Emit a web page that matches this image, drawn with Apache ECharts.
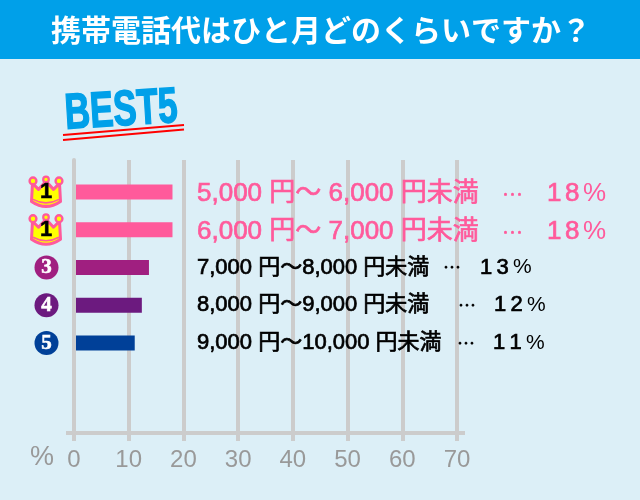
<!DOCTYPE html>
<html>
<head>
<meta charset="utf-8">
<style>html,body{margin:0;padding:0;background:#dceff7}#main{width:640px;height:500px}</style>
<script src="https://cdn.jsdelivr.net/npm/echarts@6/dist/echarts.min.js"></script>
</head>
<body>
<div id="main"></div>
<script>
var titleText = '携帯電話代はひと月どのくらいですか？';
var bestText = 'BEST5';
var unitText = '%';
var categories = ['5,000 円～ 6,000 円未満', '6,000 円～ 7,000 円未満', '7,000 円～8,000 円未満', '8,000 円～9,000 円未満', '9,000 円～10,000 円未満'];
var ranks = [1, 1, 3, 4, 5];
var percents = ['18', '18', '13', '12', '11'];
var barLengths = [18, 18, 13.7, 12.4, 11.1];
var barColors = ['#ff5a9b', '#ff5a9b', '#a01f80', '#6c1a7f', '#004098'];
var xTicks = [0, 10, 20, 30, 40, 50, 60, 70];

var font = '"Liberation Sans","Noto Sans CJK JP",sans-serif';
var cjk = '"Noto Sans CJK JP",sans-serif';
var pink = '#ff5a9b';

// crown drawn as svg, used as the background of the rank label
var crownSvg = '<svg xmlns="http://www.w3.org/2000/svg" width="36" height="35" viewBox="0 0 36 35">' +
    '<path d="M4.5 9 L10.5 15 L18 7 L25.5 15 L31.5 9 L32.5 27 Q18 37 3.5 27 Z" fill="#ffff00" stroke="#ff5a9b" stroke-width="3" stroke-linejoin="round"/>' +
    '<circle cx="5" cy="6.5" r="3.4" fill="#ffff00" stroke="#ff5a9b" stroke-width="2.4"/>' +
    '<circle cx="18" cy="5" r="2.8" fill="#ffff00" stroke="#ff5a9b" stroke-width="2.2"/>' +
    '<circle cx="31" cy="6.5" r="3.4" fill="#ffff00" stroke="#ff5a9b" stroke-width="2.4"/>' +
    '<path d="M5 25 Q18 32 31 25" fill="none" stroke="#ff5a9b" stroke-width="1.6"/></svg>';
var crownImg = 'data:image/svg+xml;charset=utf-8,' + encodeURIComponent(crownSvg);

var rankRich = {
    crown: {
        width: 36, height: 35, align: 'center', lineHeight: 52,
        backgroundColor: {image: crownImg},
        color: '#000', fontFamily: font, fontWeight: 'bold', fontSize: 22,
        textBorderColor: '#000', textBorderWidth: 0.5
    },
    gap: {width: 5.5}
};
[2, 3, 4].forEach(function(i) {
    rankRich['c' + i] = {
        width: 24, height: 24, borderRadius: 12, align: 'center', lineHeight: 25,
        backgroundColor: barColors[i], color: '#fff',
        fontFamily: 'Liberation Serif', fontWeight: 'bold', fontSize: 21,
        textBorderColor: '#fff', textBorderWidth: 0.6
    };
});

// where the dots and percent begin differs per row
var rangeWidths = [305, 305, 246, 261, 260];
var dotWidths = [45, 45, 37, 36, 36];
var textRich = {};
categories.forEach(function(c, i) {
    var big = i < 2;
    var col = big ? pink : '#000';
    var base = {color: col, fontFamily: font, height: 30, lineHeight: 30, align: 'left',
        textBorderColor: col, padding: big ? [4, 0, 0, 0] : 0};
    textRich['a' + i] = Object.assign({}, base, {width: rangeWidths[i], fontSize: big ? 26 : 22, textBorderWidth: 0.7});
    textRich['b' + i] = Object.assign({}, base, {width: dotWidths[i], fontFamily: cjk, fontSize: big ? 21 : 18, textBorderWidth: 0.3});
    textRich['d' + i] = Object.assign({}, base, {width: big ? 18 : 16.5, fontSize: big ? 26 : 22, textBorderWidth: 0.7});
    textRich['p' + i] = Object.assign({}, base, {fontSize: big ? 26 : 21, textBorderWidth: 0});
});

var myChart = echarts.init(document.getElementById('main'));
var option = {
    backgroundColor: '#dceff7',
    animation: false,
    grid: [
        {left: 74, right: 183, top: 160, bottom: 67},
        {left: 74, right: 183, top: 173, height: 189}
    ],
    xAxis: [{
        gridIndex: 0, type: 'value', min: 0, max: 70, interval: 10,
        axisLine: {show: false},
        axisTick: {show: true, length: 8, lineStyle: {color: '#cccccc', width: 4}},
        splitLine: {show: true, lineStyle: {color: '#cccccc', width: 4}},
        axisLabel: {margin: 15, color: '#999999', fontFamily: font, fontSize: 24,
            formatter: function(v) { return xTicks.indexOf(v) >= 0 ? v : ''; }}
    }, {
        gridIndex: 1, type: 'value', min: 0, max: 70, show: false
    }],
    yAxis: [{
        // the zero line sits on top of the bars
        gridIndex: 0, type: 'value', z: 5,
        axisLine: {show: true, lineStyle: {color: '#cccccc', width: 4}},
        axisTick: {show: false}, axisLabel: {show: false}, splitLine: {show: false}
    }, {
        gridIndex: 1, type: 'category', inverse: true, data: categories,
        axisLine: {show: false}, axisTick: {show: false},
        axisLabel: {
            margin: 10,
            rich: rankRich,
            formatter: function(v, i) {
                return ranks[i] === 1 ? '{crown|1}' : '{c' + i + '|' + ranks[i] + '}{gap|}';
            }
        }
    }, {
        gridIndex: 1, type: 'category', inverse: true, data: categories,
        position: 'left', offset: -123,
        axisLine: {show: false}, axisTick: {show: false},
        axisLabel: {
            inside: true, margin: 0, align: 'left',
            rich: textRich,
            formatter: function(v, i) {
                var digits = percents[i].split('').map(function(d) {
                    return '{d' + i + '|' + d + '}';
                }).join('');
                return '{a' + i + '|' + v + '}{b' + i + '|…}' + digits + '{p' + i + '|%}';
            }
        }
    }],
    series: [{
        type: 'bar', xAxisIndex: 1, yAxisIndex: 1, barWidth: 15,
        data: barLengths.map(function(v, i) {
            return {value: v, itemStyle: {color: barColors[i]}};
        })
    }],
    graphic: [
        {type: 'rect', shape: {x: 0, y: 0, width: 640, height: 59}, style: {fill: '#00a0e9'}},
        {type: 'text', x: 321, y: 30, style: {text: titleText, fill: '#fff', font: 'bold 30px "Noto Sans CJK JP"', textAlign: 'center', textVerticalAlign: 'middle'}},
        {type: 'rect', shape: {x: 66, y: 431, width: 399, height: 4}, style: {fill: '#cccccc'}},
        {type: 'text', x: 42, y: 458, style: {text: unitText, fill: '#999999', font: '27px "Liberation Sans"', textAlign: 'center', textVerticalAlign: 'middle'}},
        {type: 'text', x: 65, y: 115, rotation: 3.5 * Math.PI / 180, scaleX: 0.7, style: {text: bestText, fill: '#00a0e9', stroke: '#00a0e9', lineWidth: 1.5, font: 'bold 50px "Liberation Sans"', textVerticalAlign: 'middle'}},
        {type: 'line', shape: {x1: 63, y1: 135, x2: 184, y2: 125}, style: {stroke: '#ff0000', lineWidth: 2}},
        {type: 'line', shape: {x1: 63, y1: 140, x2: 184, y2: 129.5}, style: {stroke: '#ff0000', lineWidth: 2}}
    ]
};
myChart.setOption(option);
</script>
</body>
</html>
